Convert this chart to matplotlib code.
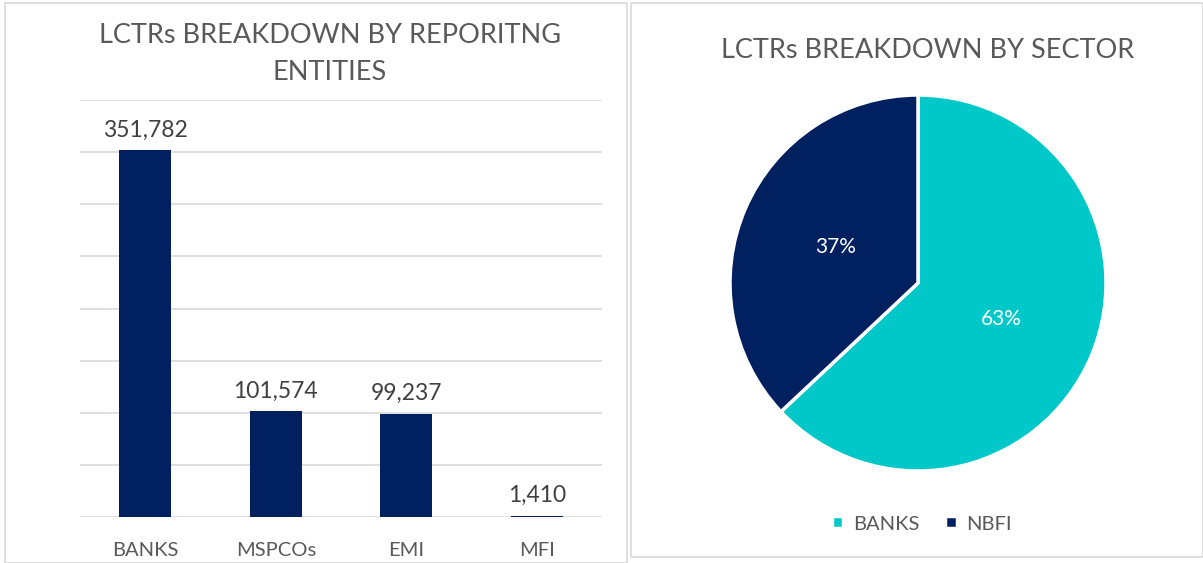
import matplotlib.pyplot as plt
from matplotlib.patches import Rectangle
from matplotlib.ticker import MultipleLocator

plt.rcParams['font.family'] = ['Lato', 'DejaVu Sans']

# bar chart data
entities = ['BANKS', 'MSPCOs', 'EMI', 'MFI']
counts = [351782, 101574, 99237, 1410]

# pie chart data
sectors = ['BANKS', 'NBFI']
shares = [63, 37]

navy = '#002060'
teal = '#00C8C8'
grey = '#595959'

fig = plt.figure(figsize=(12.03, 5.63), dpi=100)
W, H = 1203, 563

# panel frames
fig.patches.append(Rectangle((5 / W, 0), 622 / W, 560 / H, transform=fig.transFigure,
                             fill=False, edgecolor='#d9d9d9', linewidth=1.2))
fig.patches.append(Rectangle((631 / W, 6 / H), 572 / W, 554 / H, transform=fig.transFigure,
                             fill=False, edgecolor='#d9d9d9', linewidth=1.2))

# bar chart
ax = fig.add_axes([80 / W, (H - 517) / H, 522 / W, 417 / H])
bars = ax.bar(entities, counts, width=0.4, color=navy, zorder=3)
ax.set_ylim(0, 400000)
ax.set_xlim(-0.5, 3.5)
ax.yaxis.set_major_locator(MultipleLocator(50000))
ax.grid(axis='y', color='#d9d9d9', linewidth=1.2, zorder=0)
ax.set_yticklabels([])
ax.tick_params(axis='y', length=0)
ax.tick_params(axis='x', length=0, labelsize=14.5, labelcolor=grey, pad=18)
for s in ax.spines.values():
    s.set_visible(False)
for b, v in zip(bars, counts):
    ax.annotate(f'{v:,}', (b.get_x() + b.get_width() / 2, v), xytext=(0, 7),
                textcoords='offset points', ha='center', va='bottom',
                fontsize=16.5, color='#404040')
fig.text(330 / W, 1 - 54 / H, 'LCTRs BREAKDOWN BY REPORITNG\nENTITIES', ha='center',
         va='center', fontsize=19.5, color=grey, linespacing=1.6)

# pie chart
ax2 = fig.add_axes([(918 - 188) / W, (H - 283 - 188) / H, 376 / W, 376 / H])
wedges, _, autotexts = ax2.pie(shares, colors=[teal, navy], startangle=90, counterclock=False,
                               autopct='%d%%', pctdistance=0.48,
                               wedgeprops=dict(edgecolor='white', linewidth=2.5),
                               textprops=dict(color='white', fontsize=15))
ax2.set_xlim(-1, 1)
ax2.set_ylim(-1, 1)
ax2.set_aspect('equal')
fig.text(928 / W, 1 - 50 / H, 'LCTRs BREAKDOWN BY SECTOR', ha='center', va='center',
         fontsize=19.5, color=grey)
fig.legend(wedges, sectors, loc='center', bbox_to_anchor=(922 / W, 1 - 524 / H), ncol=2,
           frameon=False, fontsize=14.5, labelcolor=grey, handlelength=0.55, handleheight=0.55,
           handletextpad=0.5, columnspacing=1.3)

plt.savefig('out.png', dpi=100)
